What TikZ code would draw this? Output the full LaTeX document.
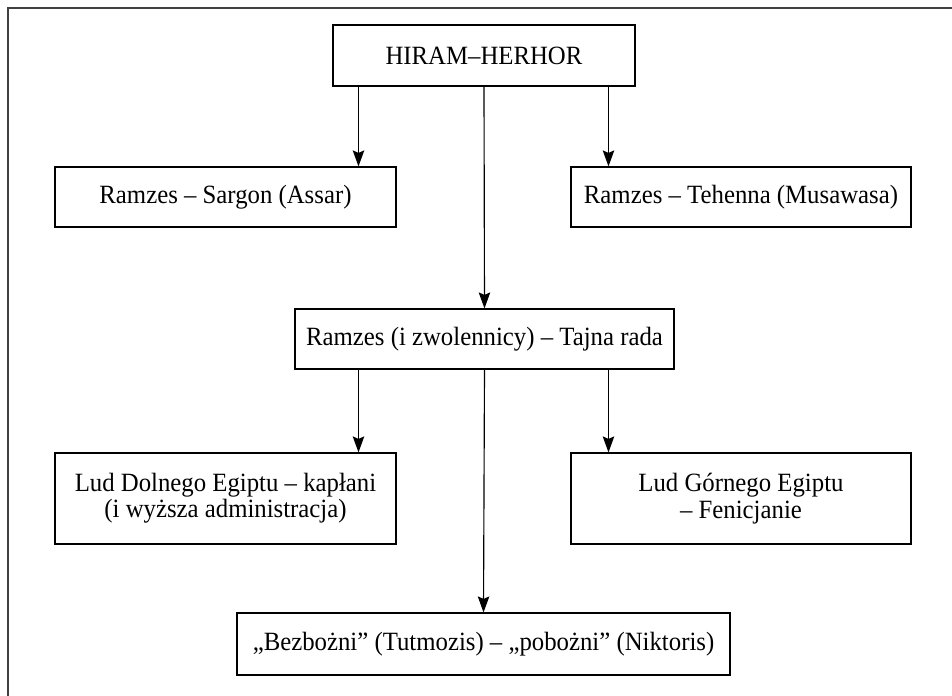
\documentclass[tikz,border=0pt]{standalone}
\usepackage{fontspec}
\setmainfont{Liberation Serif}[FakeStretch=0.94]
\usepackage{tikz}
\usetikzlibrary{arrows.meta}

\begin{document}
\begin{tikzpicture}[
                    box/.style={draw, line width=0.65pt, align=center, inner sep=0pt,
                                font=\fontsize{15}{15}\selectfont},
                    arr/.style={line width=0.65pt, -{Stealth[length=3.2mm,width=2.3mm,inset=0.5mm]}}
                    ]
                    \useasboundingbox (0,0) rectangle (19.04,-13.92);
                    \draw[line width=1.1pt, black!75] (0.16,-13.92) -- (0.16,-0.16) -- (19.04,-0.16);

                    \node[box, minimum width=6.04cm, minimum height=1.22cm] (hiram) at (9.68,-1.11) {HIRAM–HERHOR};
                    \node[box, minimum width=6.82cm, minimum height=1.2cm] (sargon) at (4.51,-3.94) {Ramzes – Sargon (Assar)};
                    \node[box, minimum width=6.8cm, minimum height=1.2cm] (tehenna) at (14.82,-3.94) {Ramzes – Tehenna (Musawasa)};
                    \node[box, minimum width=7.58cm, minimum height=1.2cm] (rada) at (9.69,-6.78) {Ramzes (i zwolennicy) – Tajna rada};
                    \node[box, minimum width=6.82cm, minimum height=1.82cm] (dolny) at (4.51,-9.97) {Lud Dolnego Egiptu – kapłani\\(i wyższa administracja)};
                    \node[box, minimum width=6.8cm, minimum height=1.82cm] (gorny) at (14.82,-9.97) {Lud Górnego Egiptu\\– Fenicjanie};
                    \node[box, minimum width=9.86cm, minimum height=1.24cm] (bozni) at (9.67,-12.88) {„Bezbożni” (Tutmozis) – „pobożni” (Niktoris)};

                    \coordinate (xl) at (7.17,0);
                    \coordinate (xr) at (12.17,0);

                    \draw[arr] (hiram.south -| xl) -- (sargon.north -| xl);
                    \draw[arr] (hiram.south -| xr) -- (tehenna.north -| xr);
                    \draw[arr] (hiram.south) -- (rada.north);

                    \draw[arr] (rada.south -| xl) -- (dolny.north -| xl);
                    \draw[arr] (rada.south -| xr) -- (gorny.north -| xr);
                    \draw[arr] (rada.south) -- (bozni.north);

                \end{tikzpicture}
\end{document}
